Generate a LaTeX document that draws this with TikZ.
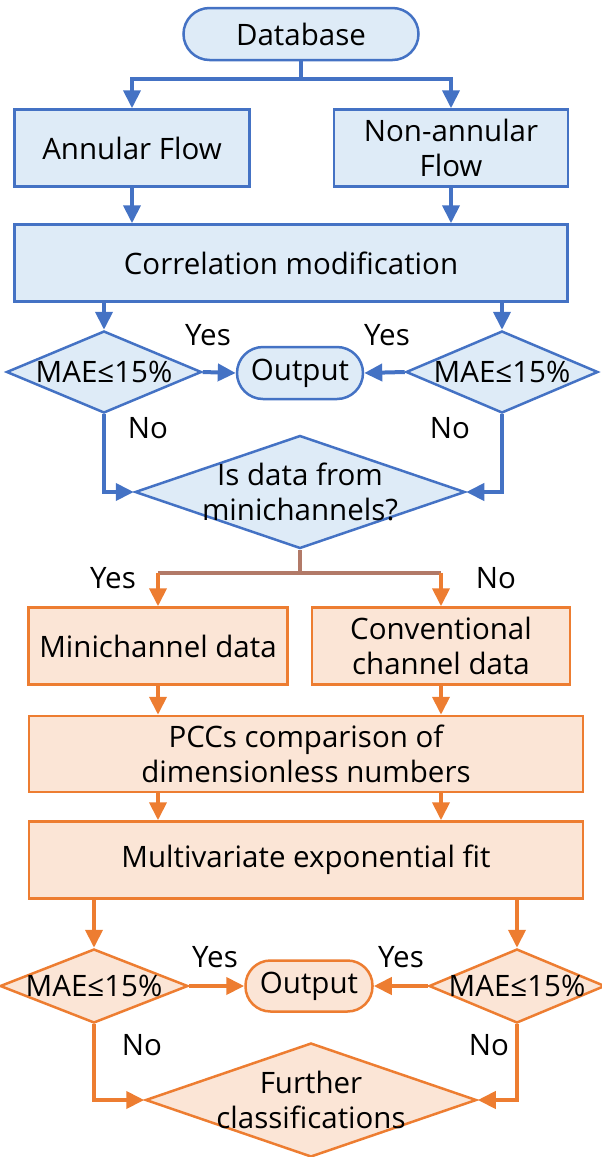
\documentclass[tikz,border=0pt]{standalone}
\usepackage{fontspec}
\usetikzlibrary{arrows.meta, shapes.geometric, positioning}
\newfontfamily\flowfont{Open Sans}
\definecolor{flowblue}{HTML}{4472C4}
\definecolor{blueFill}{HTML}{DEEBF7}
\definecolor{floworange}{HTML}{ED7D31}
\definecolor{orangeFill}{HTML}{FBE5D6}
\definecolor{flowbrown}{HTML}{B27A68}

\begin{document}
\begin{tikzpicture}[x=1pt, y=-1pt,
    every node/.style={font=\flowfont\fontsize{29.5}{35}\selectfont, align=center, inner sep=0pt},
    procB/.style={rectangle, draw=flowblue, fill=blueFill, line width=2.5pt},
    termB/.style={procB, rounded corners=26pt},
    decB/.style={diamond, draw=flowblue, fill=blueFill, line width=2.5pt},
    procO/.style={rectangle, draw=floworange, fill=orangeFill, line width=2.5pt},
    termO/.style={procO, rounded corners=25pt},
    decO/.style={diamond, draw=floworange, fill=orangeFill, line width=2.5pt},
    lineB/.style={draw=flowblue, line width=4pt},
    arrB/.style={lineB, -{Triangle[length=18pt, width=17pt]}},
    lineO/.style={draw=floworange, line width=4pt},
    arrO/.style={lineO, -{Triangle[length=18pt, width=17pt]}}]
    \useasboundingbox (0,0) rectangle (602,1157);

    % Blue part: correlation check
    \node[termB, minimum width=235pt, minimum height=52pt] (db) at (301,34) {Database};
    \node[procB, minimum width=235pt, minimum height=77pt] (annular) at (132,148) {Annular Flow};
    \node[procB, minimum width=234pt, minimum height=77pt] (nonann) at (451,148) {Non-annular\\Flow};
    \node[procB, minimum width=553pt, minimum height=77pt] (corr) at (291,263) {Correlation modification};
    \node[decB, minimum width=195pt, minimum height=82pt, label=center:MAE≤15\%] (maeA) at (104,372) {};
    \node[decB, minimum width=192pt, minimum height=82pt, label=center:MAE≤15\%] (maeB) at (502,372) {};
    \node[termB, minimum width=126pt, minimum height=52pt] (outA) at (300,373) {Output};
    \node[decB, minimum width=330pt, minimum height=113pt,
          label={[align=center]center:Is data from\\minichannels?}] (isdata) at (300,492) {};

    \draw[arrB] (db.south) -- ++(0,18) -| (annular.north);
    \draw[arrB] (db.south) -- ++(0,18) -| (nonann.north);
    \draw[arrB] (annular.south) -- (annular |- corr.north);
    \draw[arrB] (nonann.south) -- (nonann |- corr.north);
    \draw[arrB] (maeA |- corr.south) -- (maeA.north);
    \draw[arrB] (maeB |- corr.south) -- (maeB.north);
    \draw[arrB] (maeA.east) -- (outA.west);
    \draw[arrB] (maeB.west) -- (outA.east);
    \draw[arrB] (maeA.south) |- (isdata.west);
    \draw[arrB] (maeB.south) |- (isdata.east);

    \node (yesA) at (208,335) {Yes};
    \node (yesB) at (387,335) {Yes};
    \node (noA) at (148,428) {No};
    \node (noB) at (450,428) {No};

    % Orange part: fitting
    \node[procO, minimum width=259pt, minimum height=77pt] (mini) at (158,646) {Minichannel data};
    \node[procO, minimum width=258pt, minimum height=77pt] (conv) at (441,646) {Conventional\\channel data};
    \node[procO, minimum width=554pt, minimum height=76pt] (pccs) at (306,754) {PCCs comparison of\\dimensionless numbers};
    \node[procO, minimum width=554pt, minimum height=77pt] (multi) at (306,860) {Multivariate exponential fit};
    \node[decO, minimum width=188pt, minimum height=74pt, label=center:MAE≤15\%] (maeC) at (94,986) {};
    \node[decO, minimum width=176pt, minimum height=74pt, label=center:MAE≤15\%] (maeD) at (517,986) {};
    \node[termO, minimum width=127pt, minimum height=51pt] (outB) at (309,986) {Output};
    \node[decO, minimum width=331pt, minimum height=114pt,
          label={[align=center]center:Further\\classifications}] (further) at (311,1100) {};

    \draw[draw=flowbrown, line width=4pt] (isdata.south) -- ++(0,23) coordinate (split);
    \draw[draw=flowbrown, line width=4pt] (split -| mini) -- (split -| conv);
    \draw[arrO] (split -| mini) -- (mini.north);
    \draw[arrO] (split -| conv) -- (conv.north);
    \draw[arrO] (mini.south) -- (mini |- pccs.north);
    \draw[arrO] (conv.south) -- (conv |- pccs.north);
    \draw[arrO] (mini |- pccs.south) -- (mini |- multi.north);
    \draw[arrO] (conv |- pccs.south) -- (conv |- multi.north);
    \draw[arrO] (maeC |- multi.south) -- (maeC.north);
    \draw[arrO] (maeD |- multi.south) -- (maeD.north);
    \draw[arrO] (maeC.east) -- (outB.west);
    \draw[arrO] (maeD.west) -- (outB.east);
    \draw[arrO] (maeC.south) |- (further.west);
    \draw[arrO] (maeD.south) |- (further.east);

    \node (yesC) at (113,578) {Yes};
    \node (noC) at (496,578) {No};
    \node (yesD) at (215,957) {Yes};
    \node (yesE) at (401,957) {Yes};
    \node (noD) at (142,1045) {No};
    \node (noE) at (489,1045) {No};
\end{tikzpicture}
\end{document}
